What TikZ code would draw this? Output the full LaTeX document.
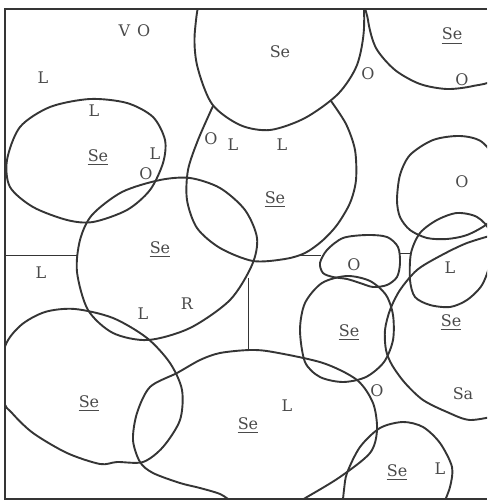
\documentclass[tikz,border=0pt]{standalone}
\usepackage{fontspec}
\setmainfont{DejaVu Serif}
\definecolor{ink}{HTML}{353535}
\definecolor{labc}{HTML}{4A4A4A}
\begin{document}
\begin{tikzpicture}[x=1pt,y=-1pt,
  blob/.style={draw=ink,line width=1.9pt,line join=round},
  thinline/.style={draw=ink,line width=0.9pt},
  frameline/.style={draw=ink,line width=2.1pt},
  lab/.style={text=labc,font=\fontsize{16}{16}\selectfont,inner sep=0pt,anchor=base},
  ulin/.style={draw=labc,line width=1.4pt}]
\useasboundingbox (0,0) rectangle (487,503);
\newcommand\ulse[3]{%
  \node[lab] (#1) at (#2,#3) {Se};
  \draw[ulin] ([yshift=-3.5pt]#1.base west) -- ([yshift=-3.5pt]#1.base east);}
\begin{scope}
\clip (5,9) rectangle (487,499);
% top centre
\draw[blob] plot[smooth cycle] coordinates {(205,-10) (195,30) (197,65) (212,104) (240,125) (270,130) (305,118) (338,94) (357,65) (364,28) (360,-10) (330,-30) (250,-30)};
% upper middle
\draw[blob] plot[smooth] coordinates {(213,106) (198,140) (188,170) (187,200) (197,228) (220,248) (253,261) (285,259) (305,253) (322,241) (337,225) (350,203) (356,180) (355,150) (346,124) (331,101)};
% top right
\draw[blob] plot[smooth cycle] coordinates {(368,-10) (368,20) (376,48) (395,70) (420,84) (447,89) (473,86) (495,78) (510,40) (495,-20) (430,-30)};
% left ellipse
\draw[blob] plot[smooth cycle] coordinates {(7,160) (20,127) (50,107) (90,99) (127,103) (153,117) (165,140) (163,163) (150,190) (127,210) (93,222) (67,220) (33,207) (10,187)};
% middle circle
\draw[blob] plot[smooth cycle] coordinates {(80,240) (92,215) (122,192) (160,180) (190,178) (220,188) (245,210) (257,238) (252,265) (230,300) (190,328) (148,340) (113,333) (88,310) (77,272)};
% lower left
\draw[blob] plot[smooth cycle] coordinates {(4,400) (4,350) (20,326) (45,312) (75,309) (113,318) (147,338) (170,363) (182,390) (180,420) (163,447) (143,462) (117,462) (100,464) (67,453) (33,433) (12,413)};
% bottom centre
\draw[blob] plot[smooth cycle] coordinates {(177,373) (200,360) (220,353) (250,350) (273,352) (323,363) (357,380) (373,403) (377,430) (370,453) (340,477) (307,497) (290,506) (250,508) (233,502) (220,494) (200,488) (180,483) (153,473) (140,462) (133,440) (137,413) (150,387)};
% right Se circle
\draw[blob] plot[smooth cycle] coordinates {(300,330) (305,303) (322,283) (347,276) (370,281) (386,295) (393,315) (393,340) (384,362) (366,377) (343,382) (320,377) (305,362)};
% O loop
\draw[blob] plot[smooth cycle] coordinates {(320,263) (327,250) (343,238) (367,235) (387,237) (398,247) (400,263) (397,277) (387,285) (373,287) (360,283) (347,279) (333,277) (323,273)};
% L loop
\draw[blob] plot[smooth cycle] coordinates {(410,280) (411,253) (420,233) (437,220) (457,213) (477,217) (490,232) (490,262) (482,285) (467,300) (450,307) (430,305) (415,297)};
% O blob
\draw[blob] plot[smooth cycle] coordinates {(397,200) (400,175) (410,155) (433,140) (460,136) (482,142) (497,165) (497,210) (487,224) (467,235) (447,239) (427,238) (410,230) (400,217)};
% Sa curve
\draw[blob] plot[smooth] coordinates {(500,233) (467,243) (440,256) (417,270) (400,290) (390,310) (385,330) (386,350) (392,365) (405,383) (423,400) (447,412) (470,420) (500,415)};
% bottom right
\draw[blob] plot[smooth] coordinates {(342,510) (344,490) (347,473) (360,447) (380,428) (403,422) (423,427) (440,443) (452,467) (450,487) (443,505)};
\end{scope}
% thin lines
\coordinate (t1a) at (5,255); \coordinate (t1b) at (78,255);
\coordinate (t2a) at (301,255); \coordinate (t2b) at (321,255);
\coordinate (t3a) at (399,253); \coordinate (t3b) at (411,253);
\coordinate (t4a) at (248,278); \coordinate (t4b) at (248,350);
\draw[thinline] (t1a) -- (t1b);
\draw[thinline] (t2a) -- (t2b);
\draw[thinline] (t3a) -- (t3b);
\draw[thinline] (t4a) -- (t4b);
% frame
\coordinate (fa) at (487,9); \coordinate (fb) at (5,9);
\coordinate (fc) at (5,499); \coordinate (fd) at (487,499);
\draw[frameline] (fa) -- (fb) -- (fc) -- (fd);
% labels
\node[lab] (vo) at (134.5,37) {V\hspace{7pt}O};
\node[lab] (l1) at (43,83) {L};
\node[lab] (l2) at (94,116) {L};
\ulse{se1}{98}{161}
\node[lab] (l3) at (155,159) {L};
\node[lab] (o1) at (146,179) {O};
\node[lab] (o2) at (211,144) {O};
\node[lab] (l4) at (233,150) {L};
\node[lab] (l5) at (282,150) {L};
\node[lab] (se2) at (280,57) {Se};
\ulse{se3}{452}{40}
\node[lab] (o3) at (462,85) {O};
\node[lab] (o4) at (368,79) {O};
\ulse{se4}{275}{203}
\node[lab] (o5) at (462,187) {O};
\ulse{se5}{160}{253}
\node[lab] (l6) at (41,278) {L};
\node[lab] (l7) at (143,319) {L};
\node[lab] (r1) at (187,309) {R};
\node[lab] (o6) at (354,270) {O};
\node[lab] (l8) at (450,273) {L};
\ulse{se6}{349}{336}
\ulse{se7}{451}{326}
\ulse{se8}{89}{407}
\node[lab] (o7) at (377,396) {O};
\node[lab] (sa) at (463,399) {Sa};
\node[lab] (l9) at (287,411) {L};
\ulse{se9}{248}{429}
\ulse{se10}{397}{476}
\node[lab] (l10) at (440,474) {L};
\end{tikzpicture}
\end{document}
